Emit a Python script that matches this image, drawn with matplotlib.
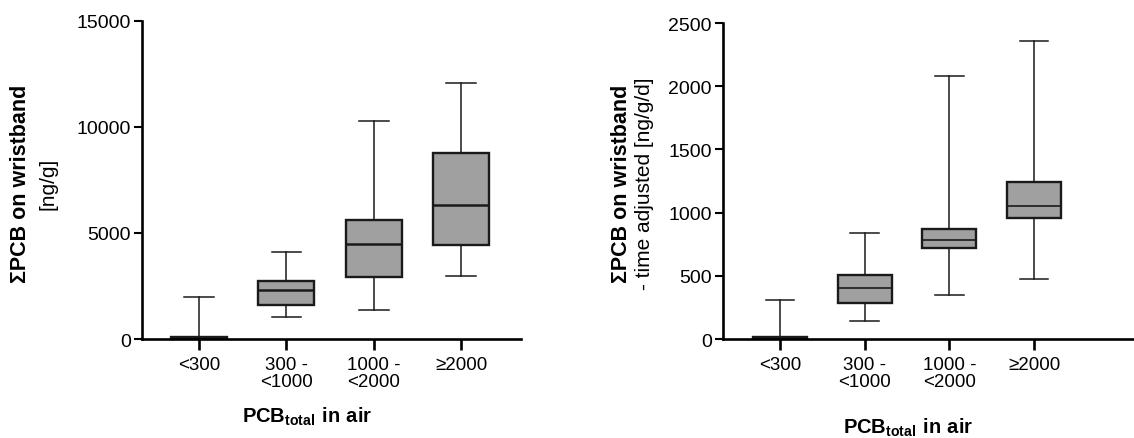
import matplotlib.pyplot as plt

plt.rcParams['font.family'] = ['Liberation Sans', 'DejaVu Sans']
plt.rcParams['mathtext.fontset'] = 'custom'
plt.rcParams['mathtext.rm'] = 'Liberation Sans'
plt.rcParams['mathtext.bf'] = 'Liberation Sans:bold'

# 分组标签
groups = ['<300', '300 -\n<1000', '1000 -\n<2000', '≥2000']

# 左图: ΣPCB on wristband [ng/g]
raw_low = [0, 1020, 1385, 2990]
raw_q1 = [0, 1620, 2940, 4440]
raw_med = [40, 2310, 4470, 6330]
raw_q3 = [90, 2740, 5590, 8770]
raw_high = [1970, 4120, 10280, 12070]

# 右图: 时间校正后 [ng/g/d]
adj_low = [0, 142, 351, 475]
adj_q1 = [0, 285, 717, 955]
adj_med = [5, 406, 783, 1052]
adj_q3 = [15, 504, 873, 1239]
adj_high = [306, 839, 2078, 2360]


def make_stats(low, q1, med, q3, high):
    return [dict(whislo=a, q1=b, med=c, q3=d, whishi=e, fliers=[])
            for a, b, c, d, e in zip(low, q1, med, q3, high)]


def draw(ax, stats, ymax, step, xlim, capw, medw):
    ax.bxp(stats, positions=range(1, 5), widths=0.64, capwidths=capw,
           showfliers=False, patch_artist=True,
           boxprops=dict(facecolor='#a0a0a0', edgecolor='#1a1a1a', linewidth=1.7),
           medianprops=dict(color='#1a1a1a', linewidth=medw),
           whiskerprops=dict(color='#1a1a1a', linewidth=1.1),
           capprops=dict(color='#1a1a1a', linewidth=1.1))
    ax.set_xlim(*xlim)
    ax.set_ylim(0, ymax)
    ax.set_yticks(range(0, ymax + 1, step))
    ax.set_xticks(range(1, 5))
    ax.set_xticklabels(groups, fontsize=13.5, linespacing=1.05)
    ax.spines['top'].set_visible(False)
    ax.spines['right'].set_visible(False)
    ax.spines['left'].set_linewidth(1.9)
    ax.spines['bottom'].set_linewidth(1.9)
    ax.tick_params(axis='y', length=6, width=1.5, labelsize=14, pad=2)
    ax.tick_params(axis='x', length=8, width=1.9, pad=4)


fig = plt.figure(figsize=(11.34, 4.39), dpi=100)

ax1 = fig.add_axes([0.125, 0.2255, 0.334, 0.7245])
draw(ax1, make_stats(raw_low, raw_q1, raw_med, raw_q3, raw_high),
     15000, 5000, (0.347, 4.676), 0.34, 1.8)
fig.text(0.018, 0.581, 'ΣPCB on wristband', rotation=90, fontsize=15.5,
         fontweight='bold', ha='center', va='center')
fig.text(0.042, 0.581, '[ng/g]', rotation=90, fontsize=15,
         ha='center', va='center')
fig.text(0.271, 0.05, r'$\mathbf{PCB_{total}\ in\ air}$', fontsize=14.5,
         ha='center', va='center')

ax2 = fig.add_axes([0.6376, 0.2255, 0.3624, 0.7198])
draw(ax2, make_stats(adj_low, adj_q1, adj_med, adj_q3, adj_high),
     2500, 500, (0.327, 5.18), 0.34, 1.2)
fig.text(0.548, 0.581, 'ΣPCB on wristband', rotation=90, fontsize=15.5,
         fontweight='bold', ha='center', va='center')
fig.text(0.568, 0.581, '- time adjusted [ng/g/d]', rotation=90, fontsize=15,
         ha='center', va='center')
fig.text(0.801, 0.025, r'$\mathbf{PCB_{total}\ in\ air}$', fontsize=14.5,
         ha='center', va='center')

fig.savefig('out.png', dpi=100)
